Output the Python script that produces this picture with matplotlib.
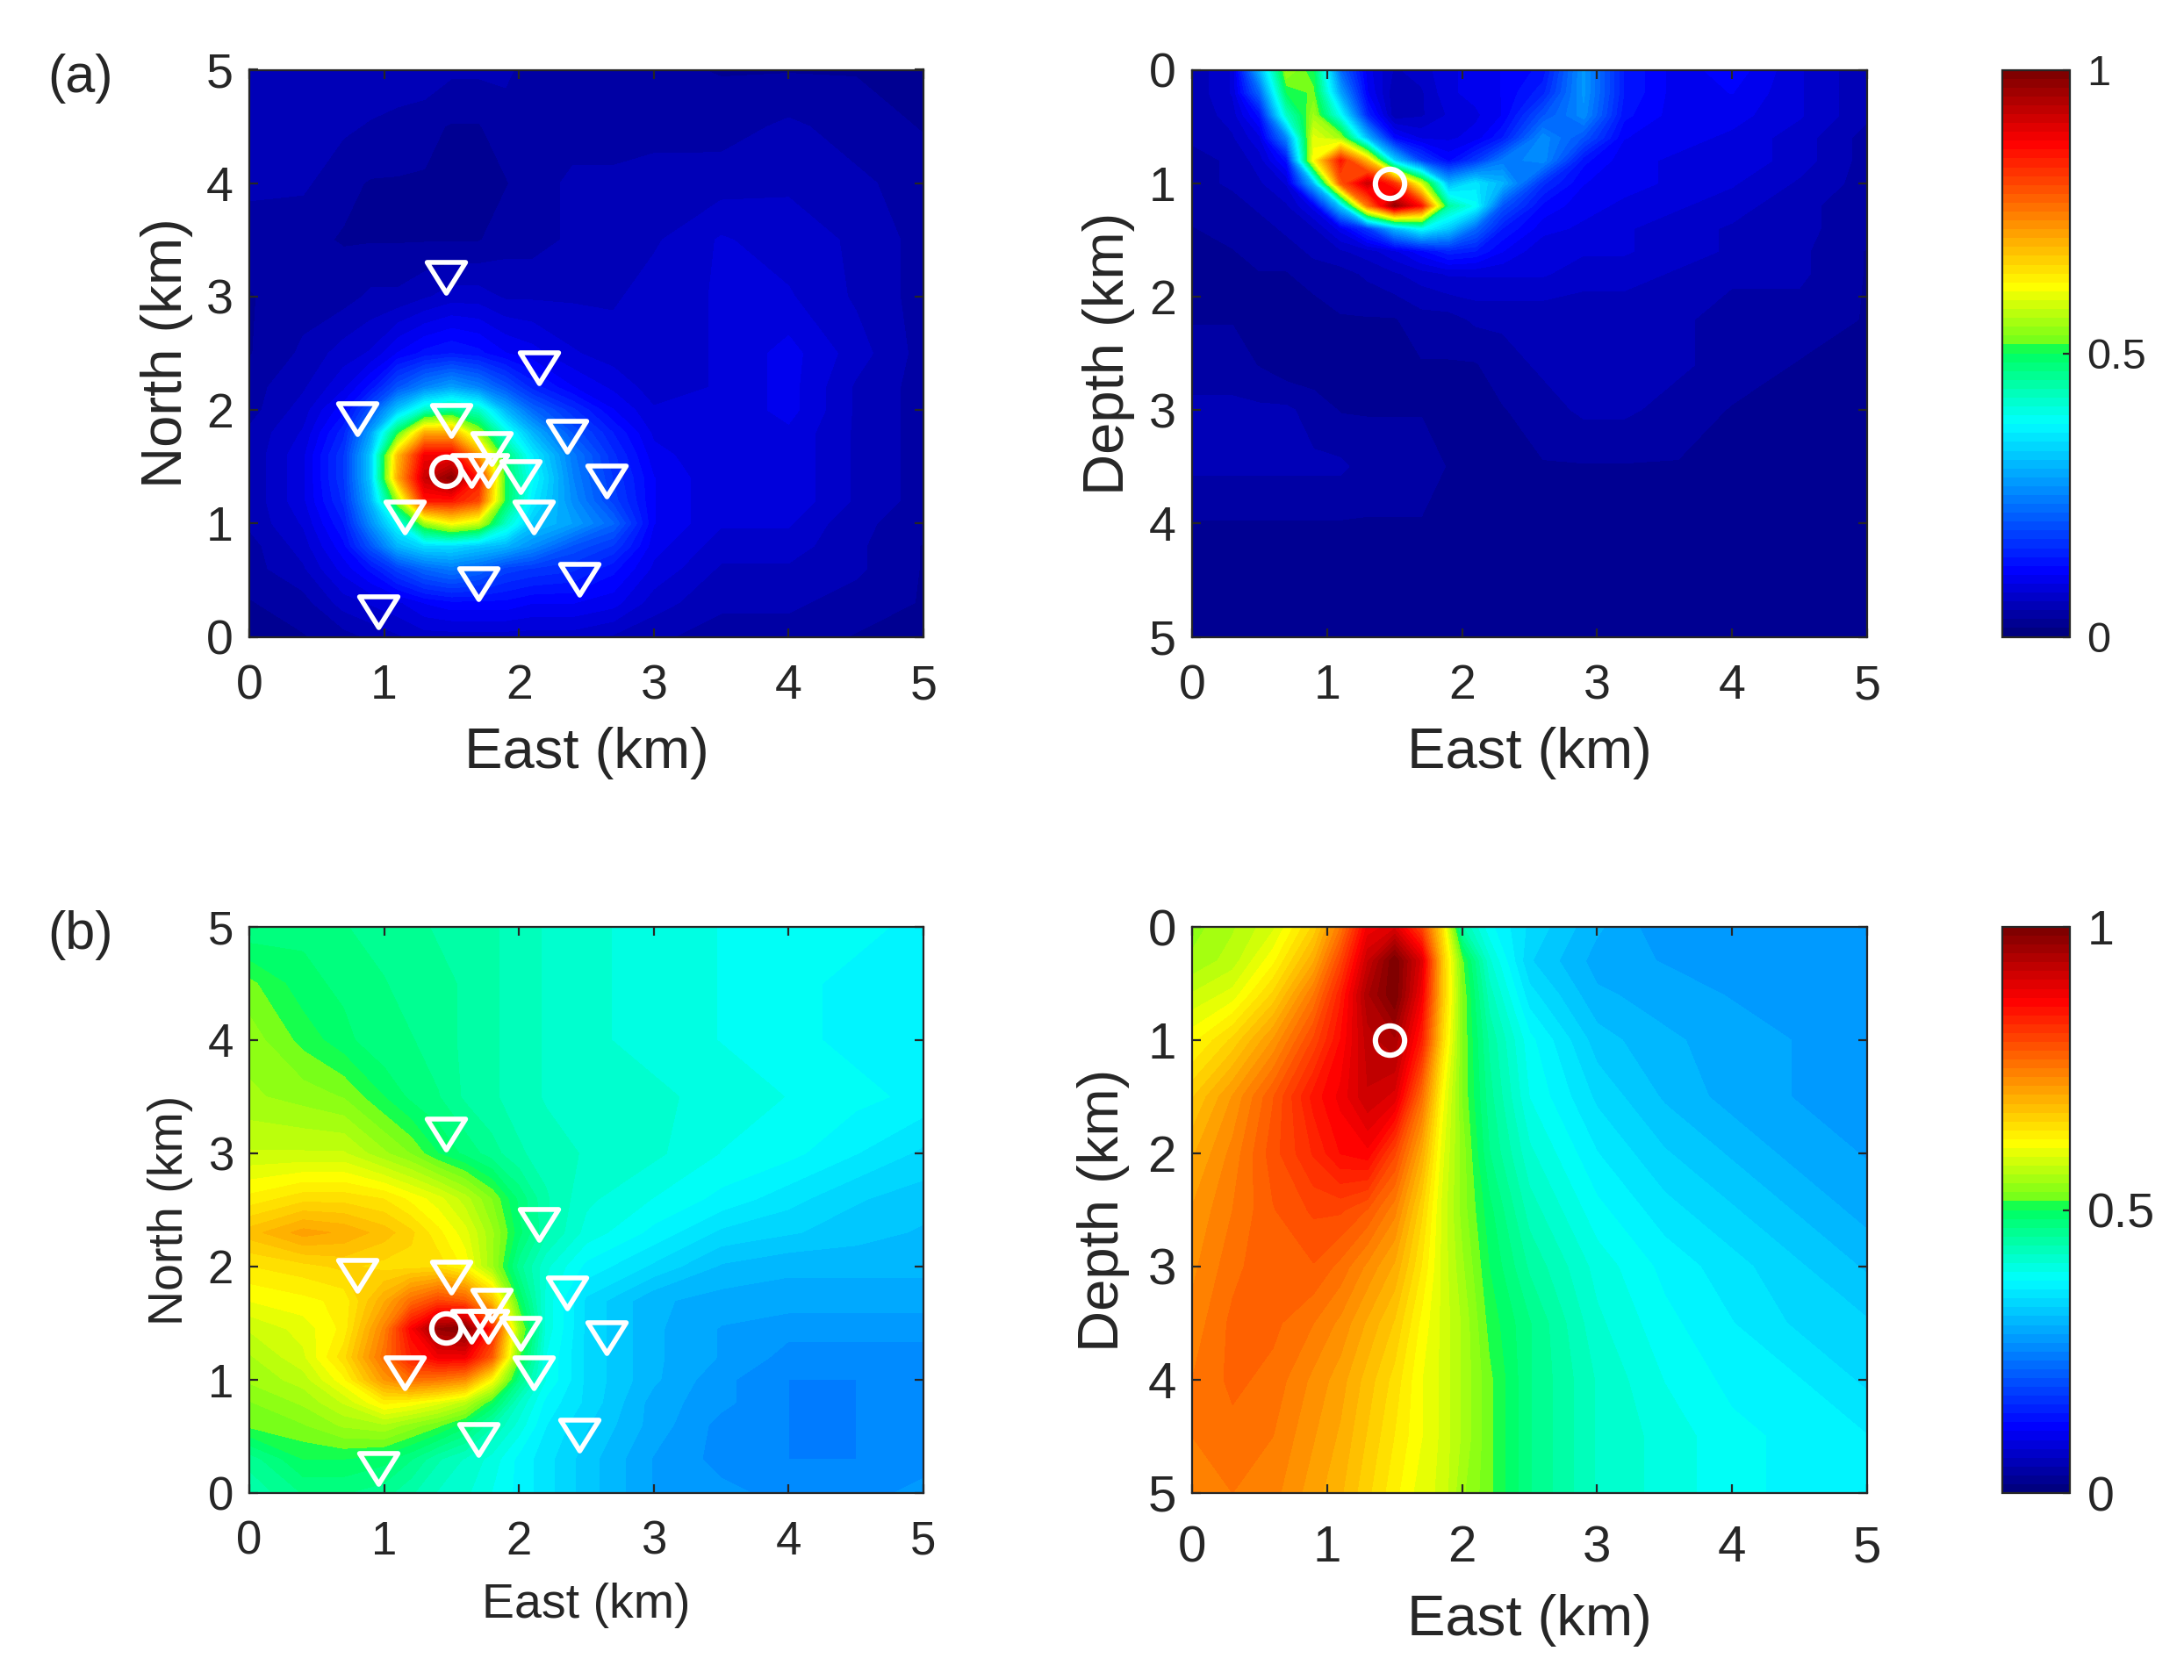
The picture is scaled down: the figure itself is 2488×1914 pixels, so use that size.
import numpy as np
import matplotlib
matplotlib.use('Agg')
import matplotlib.pyplot as plt
from matplotlib.colors import LinearSegmentedColormap
from matplotlib.markers import MarkerStyle
from matplotlib.path import Path

plt.rcParams['font.family'] = ['Liberation Sans', 'DejaVu Sans']

# stations and source
station_east = [1.46, 2.15, 0.80, 1.50, 1.80, 2.36, 2.01, 2.65, 1.15, 2.11, 1.70, 2.45, 0.96, 1.65, 1.77]
station_north = [3.17, 2.37, 1.92, 1.91, 1.66, 1.77, 1.41, 1.37, 1.06, 1.06, 0.47, 0.51, 0.22, 1.47, 1.47]
source_east = 1.46
source_north = 1.46
source_depth = 1.0

# (a) east-north
a_map_x = [0, .4, .7, .9, 1.1, 1.3, 1.5, 1.7, 1.9, 2.1, 2.4, 2.7, 3.0, 3.5, 4.0, 4.5, 5]
a_map_y = [0, .3, .6, .8, 1.0, 1.2, 1.4, 1.6, 1.8, 2.0, 2.2, 2.5, 3, 3.5, 4, 4.5, 5]
a_map = [
    [.03, .03, .04, .05, .06, .07, .07, .07, .07, .07, .07, .06, .05, .04, .04, .03, .03],
    [.03, .04, .07, .08, .09, .11, .12, .12, .12, .11, .11, .10, .07, .05, .05, .04, .03],
    [.04, .06, .10, .13, .18, .22, .24, .22, .18, .17, .16, .13, .09, .06, .06, .05, .03],
    [.04, .07, .12, .20, .30, .34, .34, .32, .30, .26, .20, .17, .10, .07, .07, .05, .03],
    [.05, .08, .14, .26, .38, .55, .62, .58, .42, .32, .28, .22, .11, .08, .08, .05, .04],
    [.05, .09, .16, .30, .55, .85, .85, .80, .50, .36, .26, .18, .11, .08, .09, .06, .04],
    [.05, .09, .17, .32, .70, .92, .98, .85, .50, .38, .25, .17, .11, .08, .09, .06, .04],
    [.05, .09, .17, .32, .68, .88, .88, .72, .48, .36, .24, .16, .10, .08, .09, .06, .04],
    [.05, .08, .15, .28, .50, .70, .70, .55, .40, .30, .20, .14, .09, .08, .09, .06, .04],
    [.04, .07, .12, .20, .32, .42, .46, .42, .30, .22, .16, .11, .08, .08, .10, .06, .04],
    [.04, .06, .09, .13, .20, .25, .28, .25, .20, .15, .11, .09, .07, .08, .10, .06, .04],
    [.03, .05, .07, .08, .11, .13, .14, .13, .11, .10, .08, .07, .07, .08, .10, .07, .04],
    [.03, .04, .04, .05, .05, .06, .07, .07, .06, .06, .06, .06, .07, .08, .08, .06, .04],
    [.04, .035, .03, .03, .03, .03, .03, .03, .04, .04, .05, .05, .06, .08, .07, .06, .04],
    [.05, .05, .035, .03, .03, .03, .03, .03, .03, .04, .05, .05, .06, .055, .06, .05, .04],
    [.05, .06, .05, .045, .04, .035, .03, .03, .04, .04, .04, .04, .035, .04, .05, .04, .03],
    [.05, .06, .06, .06, .06, .06, .05, .05, .05, .04, .04, .04, .035, .03, .03, .03, .03],
]

# (a) east-depth
a_sec_x = [0, .3, .5, .7, .9, 1.1, 1.3, 1.5, 1.7, 1.9, 2.1, 2.3, 2.6, 2.9, 3.2, 3.6, 4, 4.5, 5]
a_sec_z = [0, .2, .4, .6, .8, 1.0, 1.2, 1.4, 1.6, 1.8, 2.2, 2.6, 3, 3.5, 4, 4.5, 5]
a_sec = [
    [.05, .08, .30, .55, .50, .22, .10, .06, .07, .09, .10, .11, .13, .27, .14, .10, .12, .08, .05],
    [.05, .08, .22, .50, .52, .28, .11, .05, .06, .09, .10, .11, .15, .27, .14, .10, .11, .08, .05],
    [.05, .07, .13, .42, .55, .38, .15, .05, .06, .08, .09, .11, .20, .26, .13, .10, .10, .08, .05],
    [.05, .06, .09, .25, .60, .55, .30, .12, .09, .09, .10, .14, .26, .20, .11, .10, .09, .07, .04],
    [.04, .05, .07, .13, .62, .85, .68, .33, .18, .12, .17, .24, .26, .13, .10, .09, .09, .07, .04],
    [.04, .05, .06, .08, .30, .78, .92, .82, .58, .30, .35, .30, .16, .11, .10, .09, .08, .06, .04],
    [.04, .04, .05, .06, .10, .32, .75, .97, .85, .45, .38, .20, .12, .10, .09, .08, .07, .05, .04],
    [.03, .04, .04, .05, .06, .10, .17, .30, .38, .32, .22, .14, .10, .09, .08, .07, .06, .05, .04],
    [.03, .03, .04, .04, .05, .06, .07, .09, .12, .15, .14, .11, .08, .08, .08, .07, .06, .05, .03],
    [.02, .02, .03, .03, .04, .04, .05, .06, .07, .08, .08, .08, .08, .07, .07, .06, .05, .05, .03],
    [.03, .03, .02, .02, .02, .03, .03, .03, .04, .04, .05, .05, .05, .05, .05, .05, .04, .04, .03],
    [.04, .04, .03, .02, .02, .02, .02, .02, .03, .03, .03, .04, .05, .05, .05, .05, .04, .03, .03],
    [.05, .05, .05, .05, .04, .03, .03, .03, .03, .03, .03, .03, .04, .05, .05, .04, .03, .03, .02],
    [.05, .05, .05, .05, .05, .05, .04, .04, .04, .03, .03, .03, .03, .03, .03, .03, .02, .02, .02],
    [.03, .03, .03, .03, .03, .03, .03, .03, .03, .03, .02, .02, .02, .02, .02, .02, .02, .02, .02],
    [.02, .02, .02, .02, .02, .02, .02, .02, .02, .02, .02, .02, .02, .02, .02, .02, .02, .02, .03],
    [.02, .02, .02, .02, .02, .02, .02, .02, .02, .02, .02, .02, .02, .02, .02, .02, .02, .03, .03],
]

# (b) east-north
b_map_x = [0, .4, .7, 1, 1.2, 1.4, 1.6, 1.8, 2, 2.2, 2.5, 3, 3.5, 4, 4.5, 5]
b_map_y = [0, .3, .6, .8, 1, 1.2, 1.45, 1.7, 2, 2.3, 2.6, 3, 3.5, 4, 4.5, 5]
b_map = [
    [.44, .47, .47, .46, .44, .42, .41, .39, .37, .35, .32, .28, .27, .26, .26, .27],
    [.46, .50, .50, .49, .47, .44, .42, .40, .37, .35, .32, .28, .26, .25, .25, .26],
    [.52, .53, .55, .56, .54, .52, .49, .44, .40, .36, .33, .29, .26, .25, .25, .26],
    [.53, .55, .58, .63, .62, .60, .57, .50, .42, .37, .34, .29, .27, .25, .25, .26],
    [.55, .57, .62, .72, .76, .75, .73, .62, .47, .39, .34, .30, .27, .25, .25, .26],
    [.56, .59, .65, .76, .84, .88, .88, .78, .52, .39, .34, .30, .28, .26, .26, .26],
    [.58, .60, .63, .74, .87, .97, .99, .84, .55, .40, .34, .30, .28, .27, .27, .27],
    [.61, .62, .63, .70, .76, .80, .78, .68, .50, .40, .34, .30, .29, .29, .29, .29],
    [.64, .65, .66, .65, .65, .65, .62, .55, .46, .41, .37, .34, .31, .30, .30, .30],
    [.68, .71, .70, .68, .66, .63, .60, .55, .49, .44, .40, .37, .34, .33, .32, .31],
    [.63, .65, .65, .64, .62, .60, .57, .53, .48, .44, .41, .39, .37, .35, .33, .32],
    [.58, .58, .58, .55, .53, .50, .48, .46, .44, .43, .42, .41, .39, .38, .36, .34],
    [.55, .54, .53, .50, .48, .47, .45, .44, .43, .42, .41, .41, .40, .39, .38, .37],
    [.54, .51, .49, .47, .47, .46, .45, .44, .43, .42, .41, .40, .39, .38, .37, .36],
    [.52, .49, .48, .47, .46, .46, .45, .44, .43, .42, .41, .40, .39, .38, .37, .37],
    [.47, .48, .47, .46, .46, .45, .45, .44, .43, .42, .41, .40, .39, .38, .38, .37],
]

# (b) east-depth
b_sec_x = [0, .3, .6, .9, 1.1, 1.3, 1.5, 1.7, 1.85, 2, 2.2, 2.5, 3, 3.5, 4, 4.5, 5]
b_sec_z = [0, .3, .6, 1, 1.5, 2, 2.5, 3, 3.5, 4, 4.5, 5]
b_sec = [
    [.54, .56, .59, .66, .75, .88, .90, .80, .65, .44, .38, .34, .30, .27, .27, .28, .28],
    [.55, .57, .62, .70, .80, .92, 1.0, .90, .68, .52, .41, .33, .29, .28, .28, .28, .28],
    [.58, .60, .66, .75, .84, .95, 1.0, .88, .68, .53, .43, .35, .30, .29, .28, .28, .28],
    [.62, .66, .72, .80, .86, .93, .95, .84, .66, .53, .45, .38, .32, .30, .29, .28, .27],
    [.67, .72, .78, .85, .88, .92, .90, .76, .62, .53, .46, .39, .34, .31, .29, .28, .27],
    [.70, .74, .79, .83, .86, .87, .80, .70, .60, .54, .47, .41, .36, .33, .31, .29, .28],
    [.72, .75, .78, .80, .80, .78, .74, .66, .59, .54, .49, .43, .38, .35, .33, .31, .29],
    [.73, .76, .78, .78, .76, .73, .70, .64, .59, .55, .50, .45, .40, .37, .35, .33, .31],
    [.74, .77, .77, .75, .73, .70, .67, .62, .59, .56, .51, .47, .41, .38, .36, .34, .33],
    [.75, .77, .76, .73, .71, .68, .65, .61, .59, .56, .52, .47, .42, .39, .37, .36, .34],
    [.75, .76, .75, .72, .70, .67, .64, .61, .59, .56, .52, .47, .42, .40, .38, .37, .36],
    [.75, .75, .74, .71, .69, .66, .63, .60, .59, .55, .52, .47, .42, .40, .38, .37, .36],
]

km_ticks = [0, 1, 2, 3, 4, 5]
cbar_ticks = [0, 0.5, 1]
cbar_labels = ['0', '0.5', '1']

W, H = 2488, 1914
DPI = 200
LEVELS = np.linspace(0, 1, 65)
# jet-like, but with the vivid greens of the reference colour bar
CMAP = LinearSegmentedColormap.from_list('paper_jet', [
    (0.0, (0, 0, .5)),
    (.11, (0, 0, 1)),
    (.375, (0, 1, 1)),
    (.505, (0, 1, .35)),
    (.52, (.45, 1, .1)),
    (.62, (1, 1, 0)),
    (.875, (1, 0, 0)),
    (1.0, (.5, 0, 0)),
], N=64)
EDGE = '#262626'

# squat station triangle
TRIANGLE = MarkerStyle(Path([(-1, .8), (1, .8), (0, -.8), (-1, .8)], closed=True), joinstyle='miter')

fig = plt.figure(figsize=(W / DPI, H / DPI), dpi=DPI)


def px_axes(left, top, right, bottom):
    """Axes from pixel edges, y counted from the top of the picture."""
    return fig.add_axes([left / W, 1 - bottom / H, (right - left) / W, (bottom - top) / H])


def draw_panel(box, x, y, z, xlabel, ylabel, tick_size, label_size, xlabel_y, ylabel_x, xpad, invert=False):
    ax = px_axes(*box)
    cf = ax.contourf(x, y, np.array(z), levels=LEVELS, cmap=CMAP, vmin=0, vmax=1)
    ax.set_xlim(0, 5)
    if invert:
        ax.set_ylim(5, 0)
    else:
        ax.set_ylim(0, 5)
    ax.set_xticks(km_ticks)
    ax.set_yticks(km_ticks)
    ax.tick_params(direction='in', length=3.5, width=0.8, color=EDGE, top=True, right=True,
                   labelsize=tick_size, labelcolor=EDGE)
    ax.tick_params(axis='x', pad=xpad)
    ax.tick_params(axis='y', pad=6.5)
    ax.set_xlabel(xlabel, fontsize=label_size, color=EDGE)
    ax.set_ylabel(ylabel, fontsize=label_size, color=EDGE)
    ax.xaxis.set_label_coords(0.5, xlabel_y)
    ax.yaxis.set_label_coords(ylabel_x, 0.5)
    for spine in ax.spines.values():
        spine.set_linewidth(0.8)
        spine.set_color(EDGE)
    return ax, cf


def draw_cbar(cf, box, size):
    cax = px_axes(*box)
    cb = fig.colorbar(cf, cax=cax, ticks=cbar_ticks)
    cb.ax.set_yticklabels(cbar_labels)
    cb.ax.tick_params(direction='in', length=3, width=0.8, color=EDGE, labelsize=size,
                      labelcolor=EDGE, pad=7)
    cb.outline.set_linewidth(0.8)
    cb.outline.set_edgecolor(EDGE)


def add_stations(ax):
    ax.plot(station_east, station_north, ls='none', marker=TRIANGLE, ms=15.8, mfc='none',
            mec='white', mew=2.0, clip_on=False)
    ax.plot(source_east, source_north, ls='none', marker='o', ms=12, mfc='none', mec='white', mew=2.2)


def add_source(ax):
    ax.plot(source_east, source_depth, ls='none', marker='o', ms=12, mfc='none', mec='white', mew=2.2)


LEFT = (284, 1052)
RIGHT = (1358, 2127)
CBAR = (2281, 2358)
TOP = (79.5, 725.5)
BOTTOM = (1056, 1701)

ax1, cf1 = draw_panel((LEFT[0], TOP[0], LEFT[1], TOP[1]), a_map_x, a_map_y, a_map,
                      'East (km)', 'North (km)', 20, 23.5, -0.158, -0.083, 11)
add_stations(ax1)
ax2, cf2 = draw_panel((RIGHT[0], TOP[0], RIGHT[1], TOP[1]), a_sec_x, a_sec_z, a_sec,
                      'East (km)', 'Depth (km)', 20, 23.5, -0.158, -0.085, 11, invert=True)
add_source(ax2)
draw_cbar(cf2, (CBAR[0], TOP[0], CBAR[1], TOP[1]), 17.5)

ax3, cf3 = draw_panel((LEFT[0], BOTTOM[0], LEFT[1], BOTTOM[1]), b_map_x, b_map_y, b_map,
                      'East (km)', 'North (km)', 19, 20, -0.158, -0.083, 11)
add_stations(ax3)
ax4, cf4 = draw_panel((RIGHT[0], BOTTOM[0], RIGHT[1], BOTTOM[1]), b_sec_x, b_sec_z, b_sec,
                      'East (km)', 'Depth (km)', 21, 23.5, -0.178, -0.092, 13, invert=True)
add_source(ax4)
draw_cbar(cf4, (CBAR[0], BOTTOM[0], CBAR[1], BOTTOM[1]), 20)

fig.text(54 / W, 1 - 90 / H, '(a)', fontsize=22, color=EDGE, va='center')
fig.text(54 / W, 1 - 1066 / H, '(b)', fontsize=22, color=EDGE, va='center')

fig.savefig('out.png', dpi=DPI, facecolor='white')
